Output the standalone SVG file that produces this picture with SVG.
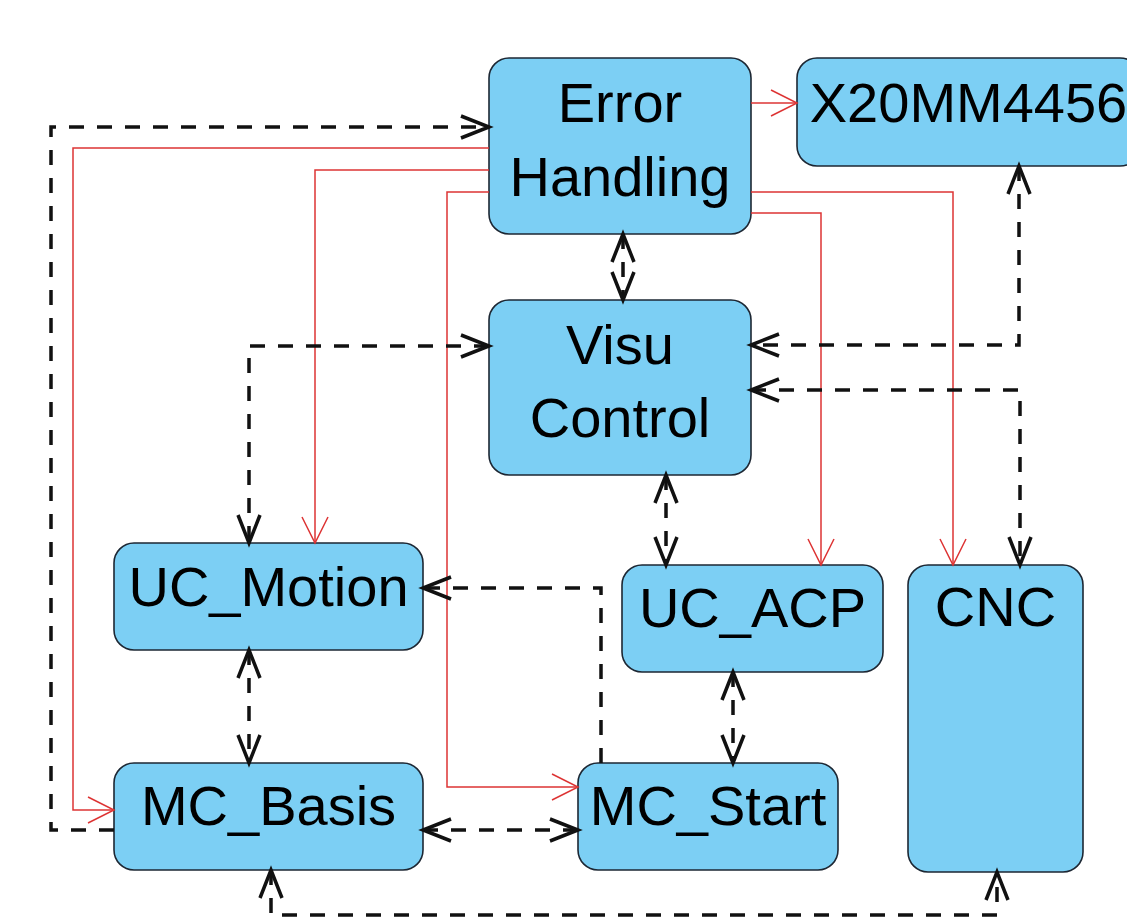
<svg xmlns="http://www.w3.org/2000/svg" width="1127" height="919" viewBox="0 0 1127 919">
<style>
.box{fill:#7ccff4;stroke:#1d2733;stroke-width:1.6}
.lbl{font-family:"Liberation Sans",Arial,sans-serif;font-size:56px;fill:#000;text-anchor:middle}
.dash{fill:none;stroke:#111;stroke-width:3.5;stroke-dasharray:15 13}
.red{fill:none;stroke:#dd3434;stroke-width:1.5}
.dash.both{marker-start:url(#ab);marker-end:url(#ab)}
.dash.end{marker-end:url(#ab)}
.red{marker-end:url(#ar)}
</style>
<defs>
<marker id="ab" markerUnits="userSpaceOnUse" markerWidth="40" markerHeight="40" viewBox="-34 -20 40 40" refX="0" refY="0" orient="auto-start-reverse" overflow="visible">
<path d="M-28,-11 L0,0 L-28,11" fill="none" stroke="#111" stroke-width="3.5" stroke-dasharray="none"/>
</marker>
<marker id="ar" markerUnits="userSpaceOnUse" markerWidth="40" markerHeight="40" viewBox="-34 -20 40 40" refX="0" refY="0" orient="auto" overflow="visible">
<path d="M-26,-13 L0,0 L-26,13" fill="none" stroke="#dd3434" stroke-width="1.5"/>
</marker>
</defs>
<rect width="1127" height="919" fill="#fff"/>
<g id="error-handling"><rect class="box" x="489" y="58" width="262" height="176" rx="20"/><text class="lbl" x="620" y="122">Error</text><text class="lbl" x="620" y="196">Handling</text></g>
<g id="x20mm4456"><rect class="box" x="797" y="58" width="343" height="108" rx="20"/><text class="lbl" x="968.5" y="122">X20MM4456</text></g>
<g id="visu-control"><rect class="box" x="489" y="300" width="262" height="175" rx="20"/><text class="lbl" x="620" y="364">Visu</text><text class="lbl" x="620" y="437">Control</text></g>
<g id="uc-motion"><rect class="box" x="114" y="543" width="309" height="107" rx="20"/><text class="lbl" x="268.5" y="606">UC_Motion</text></g>
<g id="uc-acp"><rect class="box" x="622" y="565" width="261" height="107" rx="20"/><text class="lbl" x="752.5" y="627">UC_ACP</text></g>
<g id="cnc"><rect class="box" x="908" y="565" width="175" height="307" rx="20"/><text class="lbl" x="995.5" y="626">CNC</text></g>
<g id="mc-basis"><rect class="box" x="114" y="763" width="309" height="107" rx="20"/><text class="lbl" x="268.5" y="825">MC_Basis</text></g>
<g id="mc-start"><rect class="box" x="578" y="763" width="260" height="107" rx="20"/><text class="lbl" x="708" y="825">MC_Start</text></g>
<g id="connectors">
<path class="red" d="M751,103 L797,103"/>
<path class="red" d="M489,148 L73,148 L73,810 L114,810"/>
<path class="red" d="M489,170 L315,170 L315,543"/>
<path class="red" d="M489,192 L447,192 L447,787 L578,787"/>
<path class="red" d="M751,192 L953,192 L953,565"/>
<path class="red" d="M751,213 L821,213 L821,565"/>
<path class="dash both" d="M623,234 L623,300"/>
<path class="dash both" d="M489,346 L249,346 L249,543"/>
<path class="dash end" d="M114,830 L51,830 L51,127 L489,127"/>
<path class="dash both" d="M1019,166 L1019,345 L751,345"/>
<path class="dash both" d="M751,390 L1020,390 L1020,565"/>
<path class="dash both" d="M666,475 L666,565"/>
<path class="dash end" d="M601,763 L601,588 L423,588"/>
<path class="dash both" d="M249,650 L249,763"/>
<path class="dash both" d="M733,672 L733,763"/>
<path class="dash both" d="M423,830 L578,830"/>
<path class="dash both" d="M271,870 L271,915 L997,915 L997,872"/>
</g>
</svg>
